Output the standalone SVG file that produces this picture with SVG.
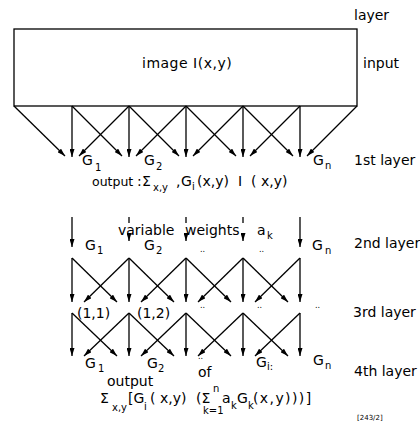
<svg xmlns="http://www.w3.org/2000/svg" width="420" height="421" viewBox="0 0 420 421">
<defs>
<style>
text{font-family:"DejaVu Sans","Liberation Sans",sans-serif;font-size:14px;fill:#000}
.sub{font-size:10px}
.dots{font-size:8px}
.tiny{font-size:7px}
.c line{stroke:#000;stroke-width:1.3;fill:none}
.a{marker-end:url(#ah)}
</style>
<marker id="ah" viewBox="0 0 8 5" refX="8" refY="2.5" markerWidth="8" markerHeight="5" markerUnits="userSpaceOnUse" orient="auto">
<path d="M0,0 L8,2.5 L0,5 Z" fill="#000"/>
</marker>
</defs>
<rect width="420" height="421" fill="#fff"/>

<g id="input-image">
<rect x="14" y="29" width="343" height="77" fill="none" stroke="#000" stroke-width="1.3"/>
<text x="142" y="68" font-size="15" letter-spacing="0.5">image I(x,y)</text>
</g>

<g id="layer-labels">
<text x="354" y="20">layer</text>
<text x="363" y="68">input</text>
<text x="354" y="165">1st layer</text>
<text x="354" y="248">2nd layer</text>
<text x="353" y="317">3rd layer</text>
<text x="354" y="376">4th layer</text>
</g>

<g class="c" id="connectors">
<!-- layer 1 -->
<line class="a" x1="72" y1="106" x2="72" y2="157"/>
<line class="a" x1="129" y1="106" x2="129" y2="157"/>
<line class="a" x1="186" y1="106" x2="186" y2="157"/>
<line class="a" x1="243" y1="106" x2="243" y2="157"/>
<line class="a" x1="300" y1="106" x2="300" y2="157"/>
<line class="a" x1="14" y1="106" x2="65" y2="156"/>
<line class="a" x1="72" y1="106" x2="122" y2="156"/>
<line class="a" x1="129" y1="106" x2="179" y2="156"/>
<line class="a" x1="186" y1="106" x2="236" y2="156"/>
<line class="a" x1="243" y1="106" x2="293" y2="156"/>
<line class="a" x1="129" y1="106" x2="79" y2="156"/>
<line class="a" x1="186" y1="106" x2="136" y2="156"/>
<line class="a" x1="243" y1="106" x2="193" y2="156"/>
<line class="a" x1="300" y1="106" x2="250" y2="156"/>
<line class="a" x1="357" y1="106" x2="307" y2="156"/>
<!-- layer 2 -->
<line class="a" x1="72" y1="217" x2="72" y2="247"/>
<line class="a" x1="300" y1="217" x2="300" y2="247"/>
<line x1="129" y1="217" x2="129" y2="223"/>
<line x1="186" y1="217" x2="186" y2="223"/>
<line x1="243" y1="217" x2="243" y2="223"/>
<line class="a" x1="129" y1="236" x2="129" y2="241"/>
<line class="a" x1="186" y1="236" x2="186" y2="241"/>
<line class="a" x1="243" y1="236" x2="243" y2="241"/>
<!-- layer 2 to 3 -->
<line class="a" x1="72" y1="258" x2="72" y2="302"/>
<line class="a" x1="129" y1="258" x2="129" y2="302"/>
<line class="a" x1="186" y1="258" x2="186" y2="302"/>
<line class="a" x1="243" y1="258" x2="243" y2="302"/>
<line class="a" x1="300" y1="258" x2="300" y2="302"/>
<line class="a" x1="72" y1="258" x2="117" y2="302"/>
<line class="a" x1="129" y1="258" x2="174" y2="302"/>
<line class="a" x1="186" y1="258" x2="231" y2="302"/>
<line class="a" x1="243" y1="258" x2="288" y2="302"/>
<line class="a" x1="129" y1="258" x2="84" y2="302"/>
<line class="a" x1="186" y1="258" x2="141" y2="302"/>
<line class="a" x1="243" y1="258" x2="198" y2="302"/>
<line class="a" x1="300" y1="258" x2="255" y2="302"/>
<!-- layer 3 to 4 -->
<line class="a" x1="72" y1="313" x2="72" y2="356"/>
<line class="a" x1="129" y1="313" x2="129" y2="356"/>
<line class="a" x1="186" y1="313" x2="186" y2="356"/>
<line class="a" x1="243" y1="313" x2="243" y2="356"/>
<line class="a" x1="300" y1="313" x2="300" y2="356"/>
<line class="a" x1="72" y1="313" x2="117" y2="356"/>
<line class="a" x1="129" y1="313" x2="174" y2="356"/>
<line class="a" x1="186" y1="313" x2="231" y2="356"/>
<line class="a" x1="243" y1="313" x2="288" y2="356"/>
<line class="a" x1="129" y1="313" x2="84" y2="356"/>
<line class="a" x1="186" y1="313" x2="141" y2="356"/>
<line class="a" x1="243" y1="313" x2="198" y2="356"/>
<line class="a" x1="300" y1="313" x2="255" y2="356"/>
</g>

<g id="layer1-nodes">
<text x="82" y="165">G</text><text class="sub" x="95" y="171">1</text>
<text x="144" y="165">G</text><text class="sub" x="156" y="170">2</text>
<text x="313" y="165">G</text><text class="sub" x="325" y="169">n</text>
</g>
<g id="layer1-output">
<text x="92" y="186"><tspan font-size="12.5">output</tspan><tspan x="137">:</tspan><tspan x="142">Σ</tspan><tspan x="153" y="191" font-size="10">x,y</tspan><tspan x="176" y="186">,</tspan><tspan x="181">G</tspan><tspan x="192" y="190" font-size="10">i</tspan><tspan x="197" y="186">(x,y)</tspan><tspan x="238">I</tspan><tspan x="251">( x,y)</tspan></text>
</g>

<g id="layer2-nodes">
<text x="118" y="235">variable</text>
<text x="185" y="235">weights</text>
<text x="257" y="235">a</text><text class="sub" x="267" y="239">k</text>
<text x="85" y="250">G</text><text class="sub" x="97" y="254">1</text>
<text x="144" y="250">G</text><text class="sub" x="156" y="254">2</text>
<text class="dots" x="200" y="252">..</text>
<text class="dots" x="259" y="252">..</text>
<text x="312" y="250">G</text><text class="sub" x="325" y="254">n</text>
</g>

<g id="layer3-nodes">
<text x="77" y="318" font-size="13">(1,1)</text>
<text x="137" y="318" font-size="13">(1,2)</text>
<text class="dots" x="200" y="308">..</text>
<text class="dots" x="257" y="308">..</text>
<text class="dots" x="315" y="308">..</text>
</g>

<g id="layer4-nodes">
<text x="85" y="368">G</text><text class="sub" x="98" y="372">1</text>
<text x="147" y="368">G</text><text class="sub" x="158" y="372">2</text>
<text class="dots" x="198" y="359">..</text>
<text x="198" y="377">of</text>
<text x="256" y="367">G</text><text class="sub" x="267" y="370">i:</text>
<text x="313" y="365">G</text><text class="sub" x="325" y="369">n</text>
</g>

<g id="layer4-output">
<text x="107" y="386">output</text>
<text x="100" y="403">Σ<tspan x="112" y="411" font-size="10">x,y</tspan><tspan x="128" y="403">[G</tspan><tspan x="144" y="410" font-size="10">i</tspan><tspan x="150" y="403">( x,y)</tspan><tspan x="196">(Σ</tspan><tspan x="213" y="392" font-size="10">n</tspan><tspan x="203" y="414" font-size="10">k=1</tspan><tspan x="222" y="403">a</tspan><tspan x="231" y="409" font-size="10">k</tspan><tspan x="237" y="403">G</tspan><tspan x="248" y="409" font-size="10">k</tspan><tspan x="253" y="403" letter-spacing="1.4">(x,y)))]</tspan></text>
<text class="tiny" x="357" y="420">[243/2]</text>
</g>
</svg>
